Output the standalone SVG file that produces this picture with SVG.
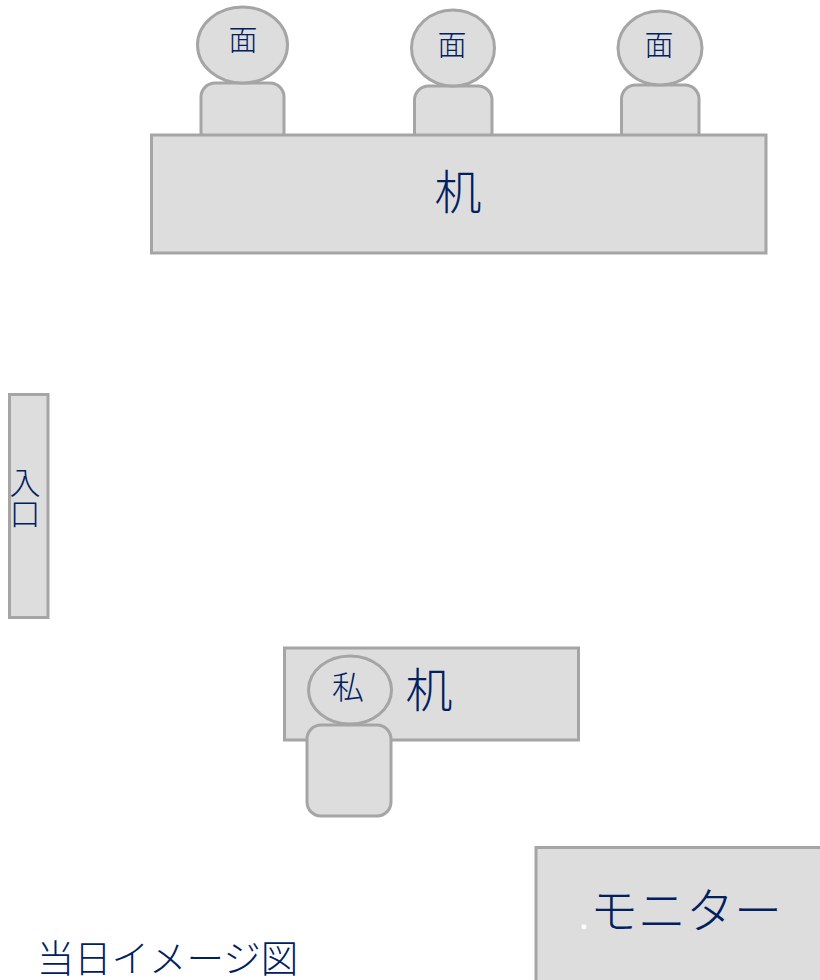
<svg xmlns="http://www.w3.org/2000/svg" width="820" height="980" viewBox="0 0 820 980">
<style>
.s{fill:#dddddd;stroke:#a5a5a5;stroke-width:3}
text{font-family:"Noto Sans CJK JP","Noto Sans CJK SC",sans-serif;font-weight:300;fill:#002060;text-anchor:middle}
</style>
<rect width="820" height="980" fill="#fff"/>
<g id="connectors"/>
<g id="interviewer-1">
<rect class="s" x="201" y="83" width="83" height="70" rx="14"/>
<ellipse class="s" cx="242.5" cy="45" rx="45" ry="38"/>
<text x="243" y="51" font-size="29">面</text>
</g>
<g id="interviewer-2">
<rect class="s" x="414.5" y="86" width="77.5" height="70" rx="14"/>
<ellipse class="s" cx="453" cy="48" rx="41.5" ry="38"/>
<text x="452" y="56" font-size="29">面</text>
</g>
<g id="interviewer-3">
<rect class="s" x="621.5" y="85" width="77.5" height="70" rx="14"/>
<ellipse class="s" cx="660" cy="48" rx="42" ry="37"/>
<text x="659" y="56" font-size="29">面</text>
</g>
<g id="desk-top">
<rect class="s" x="151.5" y="135" width="614.5" height="118"/>
<text x="458" y="209" font-size="47">机</text>
</g>
<g id="entrance">
<rect class="s" x="9.5" y="394.5" width="38.5" height="223"/>
<text x="25" y="467" font-size="31" style="writing-mode:vertical-rl;text-anchor:start">入口</text>
</g>
<g id="desk-me">
<rect class="s" x="284.5" y="648" width="294" height="92"/>
<text x="429" y="707" font-size="47">机</text>
</g>
<g id="me">
<ellipse class="s" cx="350" cy="690" rx="41.5" ry="34"/>
<rect class="s" x="307" y="725" width="84" height="91" rx="14"/>
<text x="348" y="699" font-size="32">私</text>
</g>
<g id="monitor">
<rect class="s" x="536" y="847.5" width="300" height="150"/>
<text x="584" y="929" font-size="30" style="fill:#fff;font-family:'Liberation Sans',sans-serif;font-weight:700">.</text>
<text x="686" y="928" font-size="48">モニター</text>
</g>
<text id="title" x="167.5" y="972" font-size="37.5">当日イメージ図</text>
</svg>
